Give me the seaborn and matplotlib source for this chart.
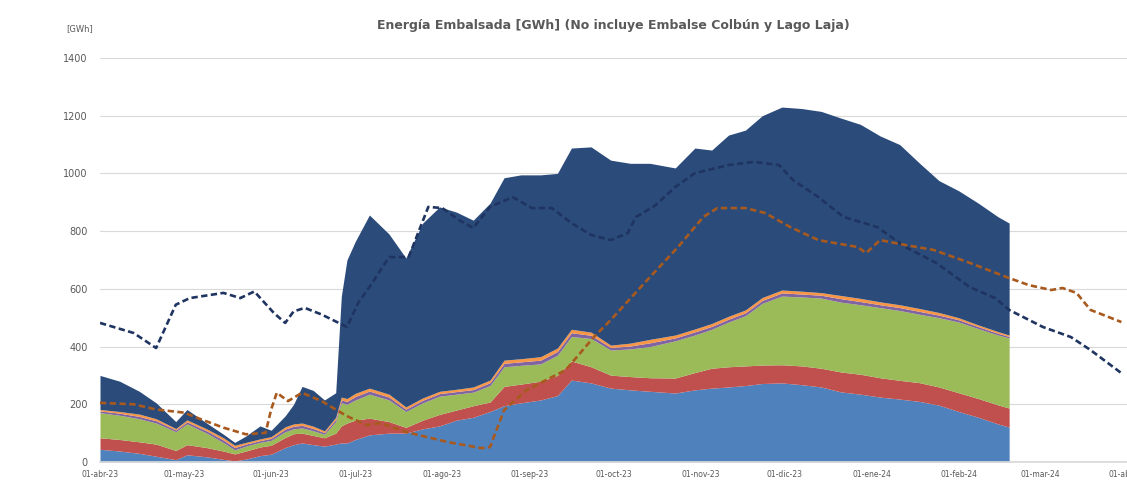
import pandas as pd
import numpy as np
import seaborn as sns
import matplotlib.pyplot as plt

# days since 01-abr-23 for the stacked areas
area_days = [0, 7, 14, 20, 27, 31, 38, 44, 48, 52, 57, 61, 66, 69, 72, 76, 80, 84, 86, 88,
             91, 96, 103, 109, 115, 121, 127, 133, 139, 144, 150, 157, 163, 168, 175, 182,
             189, 196, 205, 212, 218, 224, 230, 236, 243, 250, 257, 264, 271, 278, 285,
             292, 299, 306, 313, 320, 324]

blue = [44, 38, 30, 20, 8, 25, 18, 9, 4, 10, 22, 27, 50, 60, 66, 60, 55, 62, 66, 66,
        78, 94, 100, 100, 115, 125, 145, 155, 175, 195, 205, 215, 230, 284, 274, 256,
        250, 245, 239, 250, 256, 260, 265, 272, 274, 268, 260, 243, 235, 225, 218,
        210, 197, 175, 155, 132, 121]
red = [40, 40, 40, 42, 32, 35, 32, 29, 24, 28, 30, 31, 35, 38, 34, 32, 29, 38, 59, 69,
       67, 58, 40, 20, 30, 40, 35, 40, 33, 67, 65, 65, 70, 66, 56, 45,
       46, 47, 52, 60, 69, 70, 68, 64, 63, 65, 65, 69, 69, 67, 65,
       65, 63, 65, 65, 66, 66]
green = [87, 84, 80, 73, 65, 72, 50, 29, 14, 17, 16, 17, 20, 17, 18, 16, 12, 40, 80, 65,
         70, 83, 75, 55, 60, 63, 55, 47, 57, 68, 65, 60, 70, 85, 98, 87,
         96, 108, 129, 130, 135, 155, 174, 214, 238, 239, 243, 242, 241, 243, 242,
         237, 240, 245, 242, 242, 243]
purple = [6, 7, 8, 8, 6, 7, 8, 9, 8, 7, 6, 7, 9, 9, 9, 8, 6, 8, 10, 10,
          12, 11, 10, 8, 9, 9, 9, 9, 10, 12, 12, 13, 13, 13, 11, 9,
          10, 13, 10, 11, 10, 10, 10, 10, 11, 10, 10, 12, 11, 10, 10,
          10, 9, 8, 7, 6, 5]
orange = [5, 6, 8, 7, 5, 7, 7, 8, 8, 6, 6, 6, 8, 8, 8, 8, 6, 7, 10, 10,
          11, 10, 10, 8, 8, 8, 8, 9, 9, 11, 11, 12, 12, 12, 11, 8,
          10, 12, 10, 10, 10, 10, 10, 10, 10, 10, 9, 11, 11, 10, 10,
          10, 9, 7, 6, 6, 5]
navy = [118, 105, 79, 55, 24, 36, 20, 12, 10, 22, 45, 22, 38, 68, 127, 124, 107, 85, 349, 480,
        527, 600, 555, 516, 606, 639, 614, 578, 613, 632, 637, 630, 605, 628, 642, 641,
        623, 610, 579, 627, 601, 628, 623, 630, 634, 633, 628, 615, 603, 575, 555,
        504, 457, 440, 422, 398, 388]

# dashed reference lines
navy_line_days = [0, 12, 20, 27, 32, 44, 50, 55, 62, 66, 69, 73, 79, 88, 92, 97, 103, 110, 117,
                  122, 128, 133, 139, 147, 154, 161, 168, 175, 182, 188, 191, 198, 205, 212,
                  224, 233, 242, 247, 256, 265, 277, 287, 298, 310, 319, 324, 336, 346, 353, 364]
navy_line = [482, 447, 395, 545, 568, 586, 568, 591, 516, 482, 522, 534, 511, 468, 551, 620, 710,
             710, 884, 880, 838, 811, 884, 918, 880, 880, 828, 787, 769, 793, 849, 890, 953,
             1001, 1029, 1040, 1029, 977, 918, 849, 814, 745, 690, 606, 568, 527, 468, 433,
             388, 308]
brown_line_days = [0, 12, 20, 30, 36, 44, 52, 59, 61, 63, 67, 72, 79, 88, 95, 100, 109, 124, 136,
                   139, 144, 152, 166, 176, 182, 194, 206, 215, 220, 230, 237, 246, 256, 270,
                   273, 278, 287, 297, 310, 323, 331, 339, 343, 348, 353, 364]
brown_line = [205, 200, 182, 171, 148, 119, 96, 101, 182, 240, 211, 240, 211, 159, 128, 135, 104,
              69, 48, 52, 180, 249, 319, 433, 492, 620, 745, 849, 880, 880, 863, 814, 769, 745,
              724, 769, 752, 735, 690, 641, 613, 596, 603, 586, 527, 485]

tick_labels = ['01-abr-23', '01-may-23', '01-jun-23', '01-jul-23', '01-ago-23', '01-sep-23',
               '01-oct-23', '01-nov-23', '01-dic-23', '01-ene-24', '01-feb-24', '01-mar-24',
               '01-abr-24']

start = pd.Timestamp('2023-04-01')
area_dates = start + pd.to_timedelta(area_days, unit='D')
navy_dates = start + pd.to_timedelta(navy_line_days, unit='D')
brown_dates = start + pd.to_timedelta(brown_line_days, unit='D')
tick_dates = pd.date_range('2023-04-01', periods=13, freq='MS')

sns.set_theme(style='white')
plt.rcParams['font.family'] = ['DejaVu Sans']

fig = plt.figure(figsize=(11.27, 4.91), dpi=100)
ax = fig.add_axes([100 / 1127, 29 / 491, 1027 / 1127, 404 / 491])

colors = ['#4F81BD', '#C0504D', '#9BBB59', '#8064A2', '#F79646', '#2B4B7B']
ax.stackplot(area_dates, blue, red, green, purple, orange, navy, colors=colors, linewidth=0)

sns.lineplot(x=navy_dates, y=navy_line, ax=ax, color='#1F3460', linewidth=1.9,
             linestyle=(0, (2.4, 1.3)))
sns.lineplot(x=brown_dates, y=brown_line, ax=ax, color='#A85A1E', linewidth=1.9,
             linestyle=(0, (2.4, 1.3)))

ax.set_ylim(0, 1400)
ax.set_yticks(range(0, 1401, 200))
ax.set_xlim(start, start + pd.Timedelta(days=364.8))
ax.set_xticks(tick_dates)
ax.set_xticklabels(tick_labels)
ax.yaxis.grid(True, color='#D9D9D9', linewidth=0.8)
ax.set_axisbelow(True)
ax.tick_params(axis='x', labelsize=5.5, colors='#595959', length=0, pad=6)
ax.tick_params(axis='y', labelsize=7, colors='#595959', length=0, pad=9)
for s in ['top', 'right', 'left']:
    ax.spines[s].set_visible(False)
ax.spines['bottom'].set_color('#D9D9D9')
ax.set_xlabel('')
ax.set_ylabel('')

fig.text(80 / 1127, 1 - 29 / 491, '[GWh]', fontsize=6, color='#595959', ha='center', va='center')
fig.text(613 / 1127, 1 - 25 / 491, 'Energía Embalsada [GWh] (No incluye Embalse Colbún y Lago Laja)',
         fontsize=9, fontweight='bold', color='#595959', ha='center', va='center')

fig.savefig('out.png', dpi=100)
